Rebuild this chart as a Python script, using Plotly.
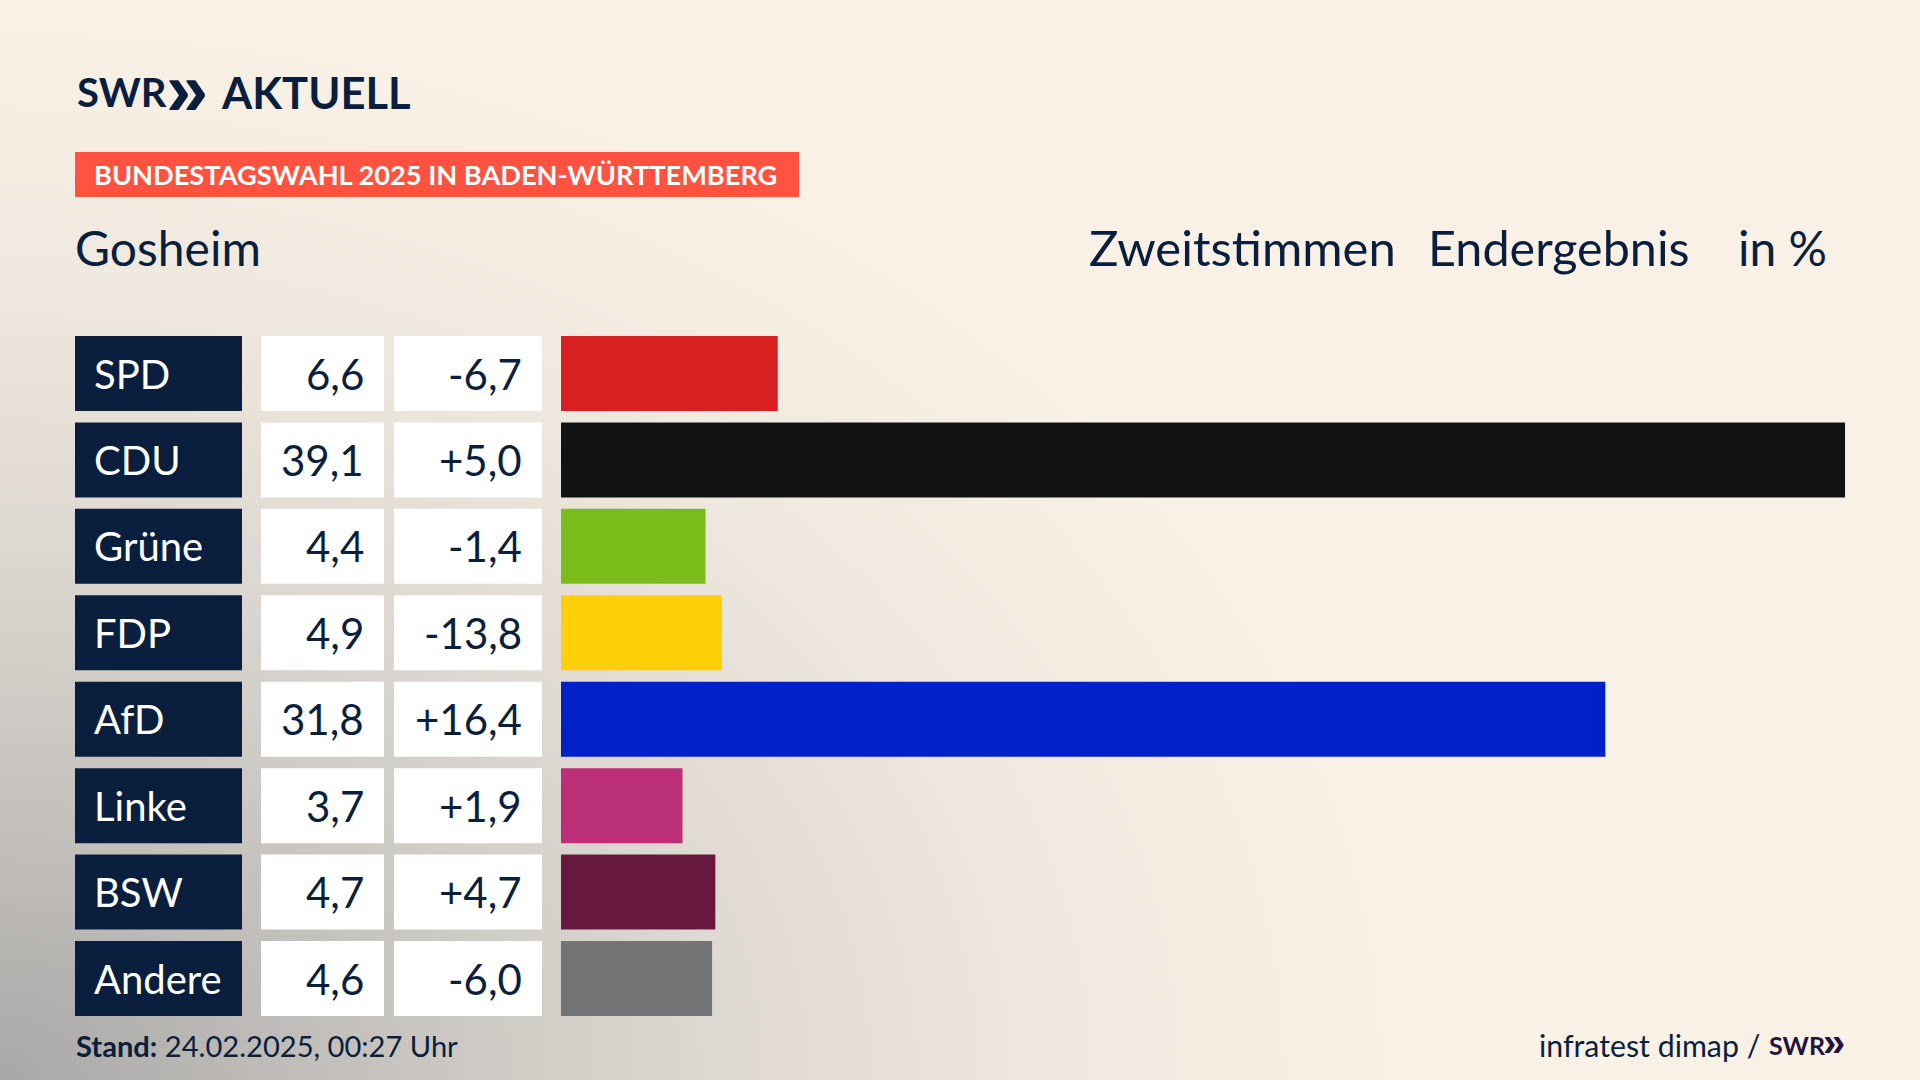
import base64
import plotly.graph_objects as go

parties = ["SPD", "CDU", "Grüne", "FDP", "AfD", "Linke", "BSW", "Andere"]
shares = [6.6, 39.1, 4.4, 4.9, 31.8, 3.7, 4.7, 4.6]
changes = ["-6,7", "+5,0", "-1,4", "-13,8", "+16,4", "+1,9", "+4,7", "-6,0"]
colors = ["#d7201f", "#121212", "#7abc1a", "#ffcf08", "#0021c8", "#bb3077", "#66183e", "#737475"]

W, H = 1920, 1080
NAVY = "#0a1f3d"
CREAM = "#faf1e6"
FONT = "Lato"
SYMBOL = "Liberation Sans"
BAR_LEFT = 561
PX_PER_UNIT = 32.84
ROW_STEP = 86.43
ROW_FIRST = 373.5

svg = f'''<svg xmlns="http://www.w3.org/2000/svg" width="{W}" height="{H}" viewBox="0 0 {W} {H}">
<defs>
<radialGradient id="a" gradientUnits="userSpaceOnUse" cx="0" cy="0" r="1" gradientTransform="translate(0 1080) scale(1400 1060)">
<stop offset="0" stop-color="#a9a8a6"/>
<stop offset="0.25" stop-color="#c4c1bd"/>
<stop offset="0.5" stop-color="#dcd7d0"/>
<stop offset="0.75" stop-color="#efe8de"/>
<stop offset="1" stop-color="{CREAM}"/>
</radialGradient>
</defs>
<rect width="{W}" height="{H}" fill="url(#a)"/>
</svg>'''
bg = "data:image/svg+xml;base64," + base64.b64encode(svg.encode()).decode()

fig = go.Figure()
cat_range = [(H - ROW_FIRST) / ROW_STEP, -ROW_FIRST / ROW_STEP]


def cell(left, width, color):
    fig.add_trace(go.Bar(y=parties, x=[width] * len(parties), base=left, orientation="h",
                         marker=dict(color=color, line_width=0), xaxis="x2", yaxis="y",
                         hoverinfo="skip", showlegend=False))


cell(75, 167, NAVY)
cell(261, 123, "#ffffff")
cell(394, 148, "#ffffff")
fig.add_trace(go.Bar(y=parties, x=shares, orientation="h",
                     marker=dict(color=colors, line_width=0), xaxis="x", yaxis="y",
                     showlegend=False))

ann = []


def text(x, y, s, size, color=NAVY, anchor="left", xref="x2", yref="y", font=FONT):
    ann.append(dict(x=x, y=y, text=s, xref=xref, yref=yref, xanchor=anchor, yanchor="middle",
                    showarrow=False, font=dict(size=size, color=color, family=font)))


for p, v, d in zip(parties, shares, changes):
    text(92, p, p, 40, "#ffffff")
    text(366, p, f"{v:.1f}".replace(".", ","), 42, anchor="right")
    text(524, p, d, 42, anchor="right")


def head(x, y_px, s, size, color=NAVY, anchor="left", font=FONT):
    text(x, 1 - y_px / H, s, size, color, anchor, yref="paper", font=font)


head(75, 92, "<b>SWR</b>", 40)
head(164, 89, "<b>»</b>", 76, font=SYMBOL)
head(219, 92, "<b>AKTUELL</b>", 43.5)
head(92, 175, "<b>BUNDESTAGSWAHL 2025 IN BADEN-WÜRTTEMBERG</b>", 27.2, "#ffffff")
head(73, 247, "Gosheim", 48)
head(1087, 247, "Zweitstimmen", 49)
head(1426, 247, "Endergebnis", 48.5)
head(1736, 247, "in %", 48)
head(74, 1045, "<b>Stand:</b> 24.02.2025, 00:27 Uhr", 29.1)
head(1537, 1045, "infratest dimap /", 30.3)
head(1767, 1045, "<b>SWR</b>", 25, "#24123f")
head(1821, 1042, "<b>»</b>", 40, "#24123f", font=SYMBOL)

fig.update_layout(
    width=W, height=H, margin=dict(l=0, r=0, t=0, b=0),
    paper_bgcolor=CREAM, plot_bgcolor="rgba(0,0,0,0)",
    barmode="overlay", bargap=1 - 75 / ROW_STEP,
    xaxis=dict(domain=[BAR_LEFT / W, 1], range=[0, (W - BAR_LEFT) / PX_PER_UNIT], visible=False),
    xaxis2=dict(domain=[0, 1], range=[0, W], visible=False, anchor="y"),
    yaxis=dict(domain=[0, 1], range=cat_range, type="category", categoryorder="array",
               categoryarray=parties, visible=False),
    annotations=ann,
    images=[dict(source=bg, xref="paper", yref="paper", x=0, y=1, sizex=1, sizey=1,
                 sizing="stretch", layer="below", xanchor="left", yanchor="top")],
    shapes=[dict(type="rect", xref="paper", yref="paper", x0=75 / W, x1=799 / W,
                 y0=1 - 197 / H, y1=1 - 152 / H, fillcolor="#ff5240", line_width=0, layer="below")],
)
fig.write_html("out.html", config=dict(displayModeBar=False),
               post_script="document.body.style.margin='0';document.body.style.overflow='hidden';")
